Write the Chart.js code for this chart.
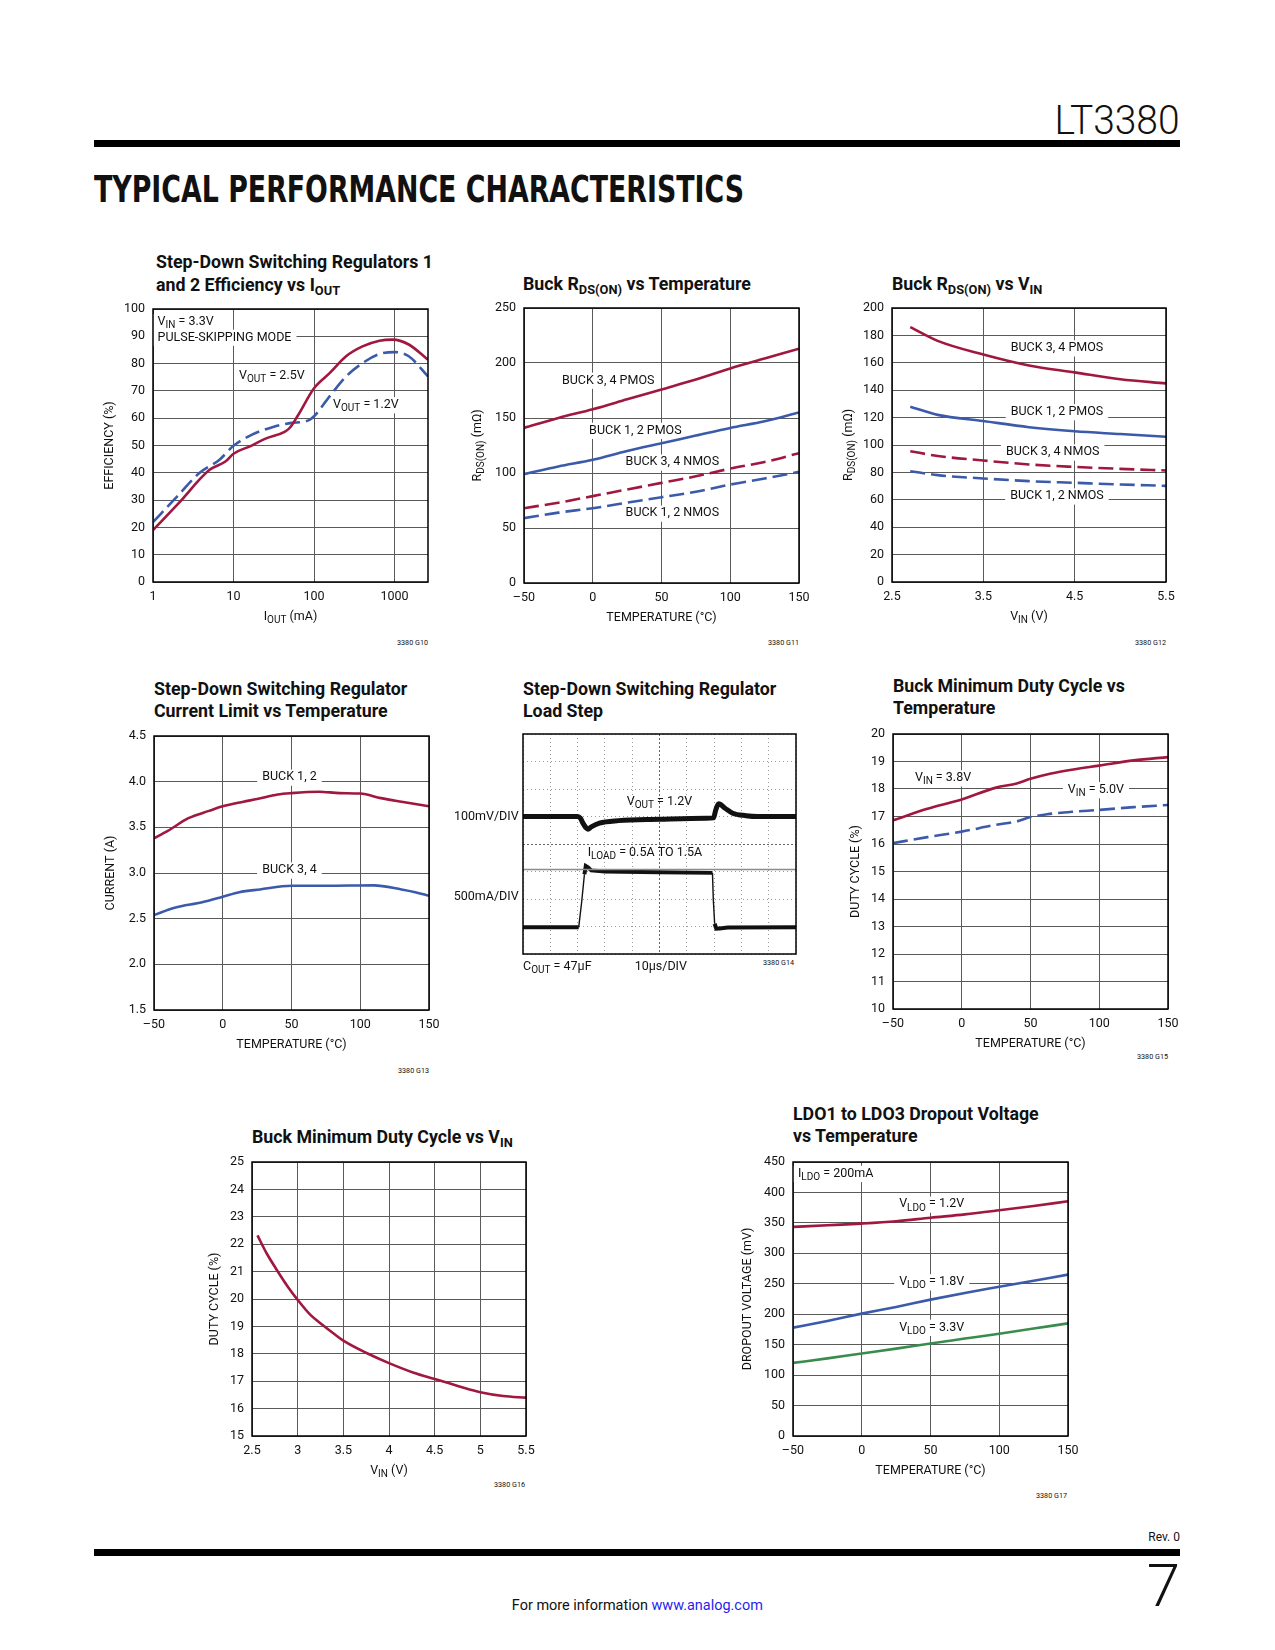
<!DOCTYPE html>
<html>
<head>
<meta charset="utf-8">
<script src="https://cdn.jsdelivr.net/npm/chart.js@4.4.0/dist/chart.umd.min.js"></script>
<style>
body{margin:0;background:#fff;}
#page{position:relative;width:1275px;height:1650px;overflow:hidden;font-family:Roboto,"Liberation Sans",Arial,sans-serif;color:#111;}
.abs{position:absolute;white-space:nowrap;}
.ttl{position:absolute;white-space:nowrap;font-weight:700;font-size:18px;line-height:22px;transform-origin:0 0;}
.ttl sub{font-size:13px;vertical-align:-4px;line-height:0;}
.fig{position:absolute;white-space:nowrap;font-size:8px;line-height:9px;transform:translateX(-100%) scaleX(0.9);transform-origin:100% 0;}
canvas{position:absolute;}
</style>
</head>
<body>
<div id="page">
  <div class="abs" data-w="125" style="right:95px;top:100px;font-size:41px;line-height:41px;font-weight:300;transform-origin:100% 0">LT3380</div>
  <div class="abs" style="left:94px;top:140px;width:1086px;height:7px;background:#000"></div>
  <div class="abs" data-w="650" style="left:94px;top:170px;font-family:'DejaVu Sans';font-weight:700;font-size:38px;line-height:38px;transform-origin:0 0">TYPICAL PERFORMANCE CHARACTERISTICS</div>

  <div class="ttl" id="t1" style="left:156px;top:250px;line-height:23px">Step-Down Switching Regulators 1<br>and 2 Efficiency vs I<sub>OUT</sub></div>
  <div class="ttl" style="left:523px;top:273px">Buck R<sub>DS(ON)</sub> vs Temperature</div>
  <div class="ttl" style="left:892px;top:273px">Buck R<sub>DS(ON)</sub> vs V<sub>IN</sub></div>
  <div class="ttl" style="left:154px;top:678px">Step-Down Switching Regulator<br>Current Limit vs Temperature</div>
  <div class="ttl" style="left:523px;top:678px">Step-Down Switching Regulator<br>Load Step</div>
  <div class="ttl" style="left:893px;top:675px">Buck Minimum Duty Cycle vs<br>Temperature</div>
  <div class="ttl" style="left:252px;top:1126px">Buck Minimum Duty Cycle vs V<sub>IN</sub></div>
  <div class="ttl" style="left:793px;top:1103px">LDO1 to LDO3 Dropout Voltage<br>vs Temperature</div>

  <div class="fig" style="left:428px;top:638px">3380 G10</div>
  <div class="fig" style="left:799px;top:638px">3380 G11</div>
  <div class="fig" style="left:1166px;top:638px">3380 G12</div>
  <div class="fig" style="left:429px;top:1066px">3380 G13</div>
  <div class="fig" style="left:794px;top:958px">3380 G14</div>
  <div class="fig" style="left:1168px;top:1052px">3380 G15</div>
  <div class="fig" style="left:525px;top:1480px">3380 G16</div>
  <div class="fig" style="left:1067px;top:1491px">3380 G17</div>

  <div class="abs" style="right:95px;top:1530px;font-size:12px;line-height:14px">Rev. 0</div>
  <div class="abs" style="left:94px;top:1549px;width:1086px;height:7px;background:#000"></div>
  <div class="abs" style="right:95px;top:1556px;font-size:60px;line-height:60px;font-weight:300">7</div>
  <div class="abs" style="left:0;top:1596px;width:1275px;text-align:center;font-size:15px;line-height:18px">
    <span data-w="251" style="display:inline-block;transform-origin:50% 0">For more information <span style="color:#1f1fef">www.analog.com</span></span>
  </div>
</div>

<script>
// ---- data ----
// efficiency vs IOUT, VIN = 3.3V
const effTicksX = [1, 10, 100, 1000];
const effTicksY = [0, 10, 20, 30, 40, 50, 60, 70, 80, 90, 100];
const effI25 = [1, 2.1, 5, 8, 10, 16, 25, 43, 50, 63, 100, 156, 250, 400, 650, 950, 1500, 2600];
const effV25 = [19, 29, 41, 44.2, 47, 49.7, 52.5, 55, 56.5, 61, 71, 76.5, 82.7, 86.3, 88.4, 88.8, 87, 81.4];
const effI12 = [1, 2, 3.8, 6.7, 10, 17, 31, 50, 84, 100, 156, 250, 400, 650, 1000, 1500, 2600];
const effV12 = [21.9, 31.4, 40, 44.8, 49.9, 54, 56.8, 58.2, 59.1, 60.7, 68, 75.3, 80.2, 83.5, 84.2, 82.7, 75.3];

// RDS(ON) vs temperature
const tempTicks = [-50, 0, 50, 100, 150];
const rdsTicksY = [0, 50, 100, 150, 200, 250];
const rdsTemp = [-50, -25, 0, 25, 50, 75, 100, 125, 150];
const rdsP34 = [141, 150, 158, 167, 176, 185, 195, 204, 213];
const rdsP12 = [99, 106, 112, 120, 127, 134, 141, 147, 155];
const rdsN34 = [68, 73, 79, 85, 91, 97, 104, 110, 118];
const rdsN12 = [59, 64, 68, 73, 78, 83, 89.5, 95, 101];

// RDS(ON) vs VIN
const vinTicks = [2.5, 3.5, 4.5, 5.5];
const vinTicksY = [0, 20, 40, 60, 80, 100, 120, 140, 160, 180, 200];
const rdsVin = [2.7, 3.0, 3.5, 4.0, 4.5, 5.0, 5.5];
const vinP34 = [186, 176, 166, 158, 153, 148, 145];
const vinP12 = [128, 122, 117.5, 113, 110, 108, 106];
const vinN34 = [95.5, 92, 88.7, 85.8, 84, 82.6, 81.4];
const vinN12 = [80.9, 78, 75.6, 73.6, 72.4, 71.2, 70.2];

// current limit vs temperature
const ilimTicksY = [1.5, 2.0, 2.5, 3.0, 3.5, 4.0, 4.5];
const ilimTemp12 = [-50, -40, -25, -10, 0, 15, 25, 40, 50, 70, 85, 100, 115, 130, 150];
const ilim12 = [3.38, 3.46, 3.6, 3.68, 3.73, 3.78, 3.81, 3.86, 3.875, 3.89, 3.875, 3.87, 3.82, 3.78, 3.73];
const ilimTemp34 = [-50, -35, -15, 0, 12, 27, 50, 75, 110, 130, 140, 150];
const ilim34 = [2.54, 2.62, 2.68, 2.74, 2.79, 2.82, 2.86, 2.86, 2.865, 2.82, 2.79, 2.75];

// load step scope capture (divisions)
const scopeTicksX = [0, 1, 2, 3, 4, 5, 6, 7, 8, 9, 10];
const scopeTicksY = [0, 1, 2, 3, 4, 5, 6, 7, 8];
const scopeTimeV = [0, 2.0, 2.1, 2.2, 2.3, 2.38, 2.5, 2.8, 3.5, 5.0, 6.7, 6.98, 7.05, 7.12, 7.17, 7.4, 7.68, 8.17, 8.6, 10];
const scopeVout = [5.0, 5.0, 4.94, 4.75, 4.6, 4.54, 4.62, 4.76, 4.85, 4.9, 4.94, 4.95, 5.2, 5.4, 5.46, 5.3, 5.12, 5.03, 5.0, 5.0];
const scopeTimeI = [0, 2.04, 2.15, 2.25, 2.3, 2.38, 2.5, 3.0, 5.0, 6.94, 6.97, 7.02, 7.08, 7.2, 7.5, 10];
const scopeIload = [0.97, 0.97, 1.9, 2.9, 3.2, 3.15, 3.04, 3.0, 2.97, 2.95, 2.0, 1.1, 0.92, 0.93, 0.96, 0.97];
const scopeRefX = [0, 10];
const scopeRef = [3.07, 3.07];

// min duty cycle vs temperature
const dutyTicksY = [10, 11, 12, 13, 14, 15, 16, 17, 18, 19, 20];
const dutyTemp38 = [-50, -25, 0, 25, 40, 50, 65, 80, 100, 125, 150];
const duty38 = [16.86, 17.28, 17.62, 18.05, 18.2, 18.37, 18.56, 18.7, 18.85, 19.04, 19.16];
const dutyTemp50 = [-50, -25, 0, 25, 40, 50, 62, 80, 100, 125, 150];
const duty50 = [16.03, 16.25, 16.45, 16.7, 16.82, 16.98, 17.08, 17.17, 17.24, 17.34, 17.42];

// min duty cycle vs VIN
const dvTicksX = [2.5, 3, 3.5, 4, 4.5, 5, 5.5];
const dvTicksY = [15, 16, 17, 18, 19, 20, 21, 22, 23, 24, 25];
const dvVin = [2.56, 2.66, 2.77, 2.89, 3.0, 3.14, 3.27, 3.39, 3.5, 3.76, 4.0, 4.27, 4.5, 4.78, 5.0, 5.25, 5.5];
const dvDuty = [22.32, 21.67, 21.07, 20.46, 19.97, 19.42, 19.06, 18.75, 18.48, 18.02, 17.66, 17.31, 17.08, 16.8, 16.6, 16.46, 16.4];

// LDO dropout vs temperature
const ldoTicksY = [0, 50, 100, 150, 200, 250, 300, 350, 400, 450];
const ldoTemp = [-50, -25, 0, 25, 50, 75, 100, 125, 150];
const ldo12 = [343.4, 346, 348.8, 352.6, 358.5, 364, 370.7, 377.8, 385.5];
const ldo18 = [178, 189, 201, 212, 224, 235, 245, 255, 265];
const ldo33 = [120, 127.5, 135.6, 143.5, 152, 160, 168, 176.5, 185];

// ---- drawing ----
const FONT = 'Roboto, "Liberation Sans", Arial, sans-serif';
const FS = 12.5;
const RED = '#a0173f', BLUE = '#3b5aa9', GREEN = '#3a8c4e';
const NOTES = {};

Chart.defaults.font.family = FONT;
Chart.defaults.font.size = FS;
Chart.defaults.color = '#111';
Chart.defaults.plugins.legend.display = false;
Chart.defaults.plugins.tooltip.enabled = false;

// text with _{sub} parts
function drawRich(ctx, str, x, y, align, measureOnly) {
  const parts = [];
  const re = /_\{([^}]*)\}/g;
  let last = 0, m;
  while ((m = re.exec(str))) {
    if (m.index > last) parts.push({t: str.slice(last, m.index), sub: false});
    parts.push({t: m[1], sub: true});
    last = re.lastIndex;
  }
  if (last < str.length) parts.push({t: str.slice(last), sub: false});
  let w = 0;
  parts.forEach(p => {
    ctx.font = (p.sub ? FS * 0.8 : FS) + 'px ' + FONT;
    p.w = ctx.measureText(p.t).width;
    w += p.w;
  });
  let sx = align === 'center' ? x - w / 2 : align === 'right' ? x - w : x;
  const box = {x: sx, y: y - FS * 0.62, w: w, h: FS * 1.3};
  if (!measureOnly) {
    ctx.textBaseline = 'middle';
    ctx.textAlign = 'left';
    parts.forEach(p => {
      ctx.font = (p.sub ? FS * 0.8 : FS) + 'px ' + FONT;
      ctx.fillText(p.t, sx, p.sub ? y + FS * 0.3 : y);
      sx += p.w;
    });
  }
  return box;
}

const notesPlugin = {
  id: 'notes',
  beforeDatasetsDraw(chart) {
    const n = NOTES[chart.canvas.id];
    if (!n) return;
    const ctx = chart.ctx, xs = chart.scales.x, ys = chart.scales.y;
    ctx.save();
    (n.items || []).forEach(it => {
      const px = xs.getPixelForValue(it.x), py = ys.getPixelForValue(it.y);
      const al = it.align || 'center';
      if (it.box !== false) {
        const b = drawRich(ctx, it.text, px, py, al, true);
        ctx.fillStyle = '#fff';
        ctx.fillRect(b.x - 5, b.y, b.w + 10, b.h);
      }
      ctx.fillStyle = '#111';
      drawRich(ctx, it.text, px, py, al, false);
    });
    ctx.restore();
  },
  afterDraw(chart) {
    const n = NOTES[chart.canvas.id];
    if (!n) return;
    const ctx = chart.ctx, a = chart.chartArea;
    ctx.save();
    ctx.strokeStyle = '#000';
    ctx.lineWidth = 1.5;
    ctx.strokeRect(a.left, a.top, a.right - a.left, a.bottom - a.top);
    ctx.fillStyle = '#111';
    if (n.xTitle) drawRich(ctx, n.xTitle, (a.left + a.right) / 2, a.bottom + 35, 'center');
    if (n.yTitle) {
      ctx.translate(a.left - n.yOff, (a.top + a.bottom) / 2);
      ctx.rotate(-Math.PI / 2);
      drawRich(ctx, n.yTitle, 0, 0, 'center');
    }
    ctx.restore();
  }
};
Chart.register(notesPlugin);

function place(id, r, m) {
  const c = document.createElement('canvas');
  c.id = id;
  const w = Math.round(r.w + m[0] + m[2]), h = Math.round(r.h + m[1] + m[3]);
  c.width = w; c.height = h;
  c.style.width = w + 'px'; c.style.height = h + 'px';
  c.style.left = Math.round(r.l - m[0]) + 'px';
  c.style.top = Math.round(r.t - m[1]) + 'px';
  document.getElementById('page').appendChild(c);
  return c;
}

const enDash = v => String(v).replace('-', '\u2013');

function axis(min, max, ticks, fit, pad, fmt, type) {
  return {
    type: type || 'linear', min: min, max: max,
    afterBuildTicks: s => { s.ticks = ticks.map(v => ({value: v})); },
    afterFit: s => { if (s.isHorizontal()) s.height = fit; else s.width = fit; },
    grid: {color: '#5a5a5a', lineWidth: 1, drawTicks: false},
    border: {display: false},
    ticks: {padding: pad, autoSkip: false, maxRotation: 0, callback: fmt || enDash}
  };
}

function series(xs, ys, color, dashed, width) {
  return {
    data: xs.map((v, i) => ({x: v, y: ys[i]})),
    borderColor: color, borderWidth: width || 2.6,
    borderDash: dashed ? [15, 6] : [],
    pointRadius: 0, cubicInterpolationMode: 'monotone', fill: false
  };
}

const M = [80, 20, 25, 60];
function make(id, r, datasets, x, y, notes, m, extra) {
  m = m || M;
  NOTES[id] = notes;
  return new Chart(place(id, r, m), {
    type: 'line',
    data: {datasets: datasets},
    options: {
      responsive: false, animation: false, events: [],
      layout: {padding: {left: 0, top: m[1], right: m[2], bottom: 0}},
      scales: Object.assign({x: x, y: y}, extra || {})
    }
  });
}

// G10 efficiency
make('c1', {l: 153.3, t: 309.3, w: 275, h: 273},
  [series(effI25, effV25, RED, false), series(effI12, effV12, BLUE, true)],
  axis(1, 2600, effTicksX, M[3], 7, v => String(v), 'logarithmic'),
  axis(0, 100, effTicksY, M[0], 8),
  {xTitle: 'I_{OUT} (mA)', yTitle: 'EFFICIENCY (%)', yOff: 43, items: [
    {x: 1.14, y: 95.3, text: 'V_{IN} = 3.3V', align: 'left'},
    {x: 1.14, y: 89.6, text: 'PULSE-SKIPPING MODE', align: 'left'},
    {x: 11.7, y: 75.6, text: 'V_{OUT} = 2.5V', align: 'left'},
    {x: 172, y: 64.9, text: 'V_{OUT} = 1.2V', align: 'left'}
  ]});

// G11 RDS vs temperature
make('c2', {l: 524.3, t: 307.7, w: 274.7, h: 274.6},
  [series(rdsTemp, rdsP34, RED, false), series(rdsTemp, rdsP12, BLUE, false),
   series(rdsTemp, rdsN34, RED, true), series(rdsTemp, rdsN12, BLUE, true)],
  axis(-50, 150, tempTicks, M[3], 7),
  axis(0, 250, rdsTicksY, M[0], 8),
  {xTitle: 'TEMPERATURE (°C)', yTitle: 'R_{DS(ON)} (mΩ)', yOff: 46, items: [
    {x: 11.2, y: 184.2, text: 'BUCK 3, 4 PMOS'},
    {x: 31, y: 138.7, text: 'BUCK 1, 2 PMOS'},
    {x: 57.9, y: 109.8, text: 'BUCK 3, 4 NMOS'},
    {x: 57.9, y: 63.4, text: 'BUCK 1, 2 NMOS'}
  ]});

// G12 RDS vs VIN
make('c3', {l: 891.7, t: 308.3, w: 274.3, h: 274.4},
  [series(rdsVin, vinP34, RED, false), series(rdsVin, vinP12, BLUE, false),
   series(rdsVin, vinN34, RED, true), series(rdsVin, vinN12, BLUE, true)],
  axis(2.5, 5.5, vinTicks, M[3], 7),
  axis(0, 200, vinTicksY, M[0], 8),
  {xTitle: 'V_{IN} (V)', yTitle: 'R_{DS(ON)} (mΩ)', yOff: 43, items: [
    {x: 4.306, y: 170.8, text: 'BUCK 3, 4 PMOS'},
    {x: 4.306, y: 124.2, text: 'BUCK 1, 2 PMOS'},
    {x: 4.259, y: 94.8, text: 'BUCK 3, 4 NMOS'},
    {x: 4.306, y: 62.7, text: 'BUCK 1, 2 NMOS'}
  ]});

// G13 current limit
make('c4', {l: 154.3, t: 736, w: 275, h: 274.3},
  [series(ilimTemp12, ilim12, RED, false), series(ilimTemp34, ilim34, BLUE, false)],
  axis(-50, 150, tempTicks, M[3], 7),
  axis(1.5, 4.5, ilimTicksY, M[0], 8, v => Number(v).toFixed(1)),
  {xTitle: 'TEMPERATURE (°C)', yTitle: 'CURRENT (A)', yOff: 43, items: [
    {x: 48.5, y: 4.048, text: 'BUCK 1, 2'},
    {x: 48.5, y: 3.031, text: 'BUCK 3, 4'}
  ]});

// G14 load step scope
const scopeX = axis(0, 10, scopeTicksX, 30, 0);
scopeX.ticks.display = false;
scopeX.grid.color = '#9a9a9a';
scopeX.border.dash = [1, 3];
const scopeY = axis(0, 8, scopeTicksY, 85, 0);
scopeY.ticks.display = false;
scopeY.grid.color = '#9a9a9a';
scopeY.border.dash = [1, 3];
const iload = series(scopeTimeI, scopeIload, '#111', false, 4);
iload.cubicInterpolationMode = 'default';
iload.tension = 0;
iload.segment = {borderWidth: c => Math.abs(c.p1.y - c.p0.y) > 10 ? 1.4 : 4};
make('c5', {l: 523.3, t: 734.3, w: 273.4, h: 219.7},
  [series(scopeRefX, scopeRef, '#8c8c8c', false, 1.5),
   series(scopeTimeV, scopeVout, '#111', false, 5),
   iload],
  scopeX, scopeY,
  {items: [
    {x: 5.0, y: 5.52, text: 'V_{OUT} = 1.2V', box: false},
    {x: 2.37, y: 3.69, text: 'I_{LOAD} = 0.5A TO 1.5A', align: 'left', box: false},
    {x: -0.16, y: 5.0, text: '100mV/DIV', align: 'right', box: false},
    {x: -0.16, y: 2.09, text: '500mA/DIV', align: 'right', box: false},
    {x: 0, y: -0.46, text: 'C_{OUT} = 47μF', align: 'left', box: false},
    {x: 4.09, y: -0.46, text: '10μs/DIV', align: 'left', box: false}
  ]},
  [85, 10, 10, 30],
  {
    xc: {type: 'linear', min: 0, max: 10, position: 'bottom',
      afterBuildTicks: s => { s.ticks = [{value: 5}]; }, afterFit: s => { s.height = 0; },
      ticks: {display: false}, grid: {color: '#666', drawTicks: false}, border: {display: false, dash: [2, 2]}},
    yc: {type: 'linear', min: 0, max: 8, position: 'left',
      afterBuildTicks: s => { s.ticks = [{value: 4}]; }, afterFit: s => { s.width = 0; },
      ticks: {display: false}, grid: {color: '#666', drawTicks: false}, border: {display: false, dash: [2, 2]}}
  });

// G15 duty cycle vs temperature
make('c6', {l: 893.3, t: 734.3, w: 275, h: 274.7},
  [series(dutyTemp38, duty38, RED, false), series(dutyTemp50, duty50, BLUE, true)],
  axis(-50, 150, tempTicks, M[3], 7),
  axis(10, 20, dutyTicksY, M[0], 8),
  {xTitle: 'TEMPERATURE (°C)', yTitle: 'DUTY CYCLE (%)', yOff: 37, items: [
    {x: -13.6, y: 18.4, text: 'V_{IN} = 3.8V'},
    {x: 97.6, y: 17.97, text: 'V_{IN} = 5.0V'}
  ]});

// G16 duty cycle vs VIN
make('c7', {l: 251.7, t: 1162.3, w: 274.3, h: 273.7},
  [series(dvVin, dvDuty, RED, false)],
  axis(2.5, 5.5, dvTicksX, M[3], 7),
  axis(15, 25, dvTicksY, M[0], 8),
  {xTitle: 'V_{IN} (V)', yTitle: 'DUTY CYCLE (%)', yOff: 37, items: []});

// G17 LDO dropout
make('c8', {l: 793.3, t: 1161.7, w: 275, h: 274.3},
  [series(ldoTemp, ldo12, RED, false), series(ldoTemp, ldo18, BLUE, false), series(ldoTemp, ldo33, GREEN, false)],
  axis(-50, 150, tempTicks, M[3], 7),
  axis(0, 450, ldoTicksY, M[0], 8),
  {xTitle: 'TEMPERATURE (°C)', yTitle: 'DROPOUT VOLTAGE (mV)', yOff: 45, items: [
    {x: -46.4, y: 431, text: 'I_{LDO} = 200mA', align: 'left'},
    {x: 50.9, y: 380.6, text: 'V_{LDO} = 1.2V'},
    {x: 50.9, y: 253, text: 'V_{LDO} = 1.8V'},
    {x: 50.9, y: 178.3, text: 'V_{LDO} = 3.3V'}
  ]});

// squeeze page text to the reference widths
function fitText() {
  document.querySelectorAll('[data-w]').forEach(el => {
    el.style.transform = 'none';
    const w = el.getBoundingClientRect().width;
    el.style.transform = 'scaleX(' + (el.dataset.w / w) + ')';
  });
  const t1 = document.getElementById('t1');
  t1.style.transform = 'none';
  const k = 277 / t1.getBoundingClientRect().width;
  document.querySelectorAll('.ttl').forEach(el => { el.style.transform = 'scaleX(' + k + ')'; });
}
fitText();
if (document.fonts) document.fonts.ready.then(fitText);
</script>
</body>
</html>
